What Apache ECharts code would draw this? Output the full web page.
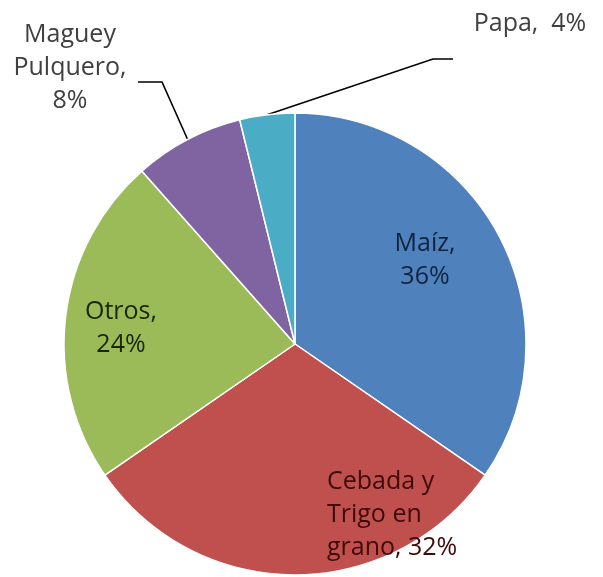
<!DOCTYPE html>
<html>
<head>
<meta charset="utf-8">
<script src="https://cdn.jsdelivr.net/npm/echarts@6/dist/echarts.min.js"></script>
<style>
  html, body { margin: 0; padding: 0; background: #ffffff; }
  #chart { width: 603px; height: 577px; }
</style>
</head>
<body>
<div id="chart"></div>
<script>
// ---- Data ----
var categories = ['Maíz', 'Cebada y Trigo en grano', 'Otros', 'Maguey Pulquero', 'Papa'];
var values = [36, 32, 24, 8, 4];
var labelTexts = ['Maíz,\n36%', 'Cebada y\nTrigo en\ngrano, 32%', 'Otros,\n24%', 'Maguey\nPulquero,\n8%', 'Papa,  4%'];

// ---- Styling / layout (not data) ----
var colors = ['#4F81BD', '#C0504D', '#9BBB59', '#8064A2', '#4BACC6'];
var textColors = ['#10243f', '#3d0a0a', '#1a2608', '#404040', '#404040'];
var labelAnchors = [
  { x: 425, y: 260, align: 'center' },
  { x: 327, y: 515, align: 'left' },
  { x: 121, y: 328, align: 'center' },
  { x: 70, y: 68, align: 'center' },
  { x: 530, y: 24, align: 'center' }
];
var guideBends = {
  3: [[162, 82], [138, 82]],
  4: [[433, 59], [453, 59]]
};

var chart = echarts.init(document.getElementById('chart'), null, { renderer: 'canvas' });

var seriesData = categories.map(function (name, i) {
  var outside = (i >= 3);
  return {
    name: name,
    value: values[i],
    itemStyle: { color: colors[i] },
    label: {
      show: true,
      position: outside ? 'outside' : 'inside',
      formatter: labelTexts[i],
      color: textColors[i],
      fontFamily: 'Open Sans',
      fontSize: 25,
      lineHeight: 33,
      align: labelAnchors[i].align
    },
    labelLine: {
      show: outside,
      lineStyle: { color: '#000000', width: 1.6 }
    }
  };
});

chart.setOption({
  animation: false,
  backgroundColor: '#ffffff',
  series: [{
    type: 'pie',
    center: [295, 344],
    radius: [0, 231],
    startAngle: 90,
    clockwise: true,
    avoidLabelOverlap: false,
    itemStyle: { borderColor: '#ffffff', borderWidth: 1.5 },
    emphasis: { disabled: true },
    data: seriesData,
    labelLayout: function (params) {
      var i = params.dataIndex;
      var a = labelAnchors[i];
      var res = { x: a.x, y: a.y, align: a.align, verticalAlign: 'middle' };
      if (guideBends[i] && params.labelLinePoints) {
        var start = params.labelLinePoints[0];
        res.labelLinePoints = [start, guideBends[i][0], guideBends[i][1]];
      }
      return res;
    }
  }]
});
</script>
</body>
</html>
